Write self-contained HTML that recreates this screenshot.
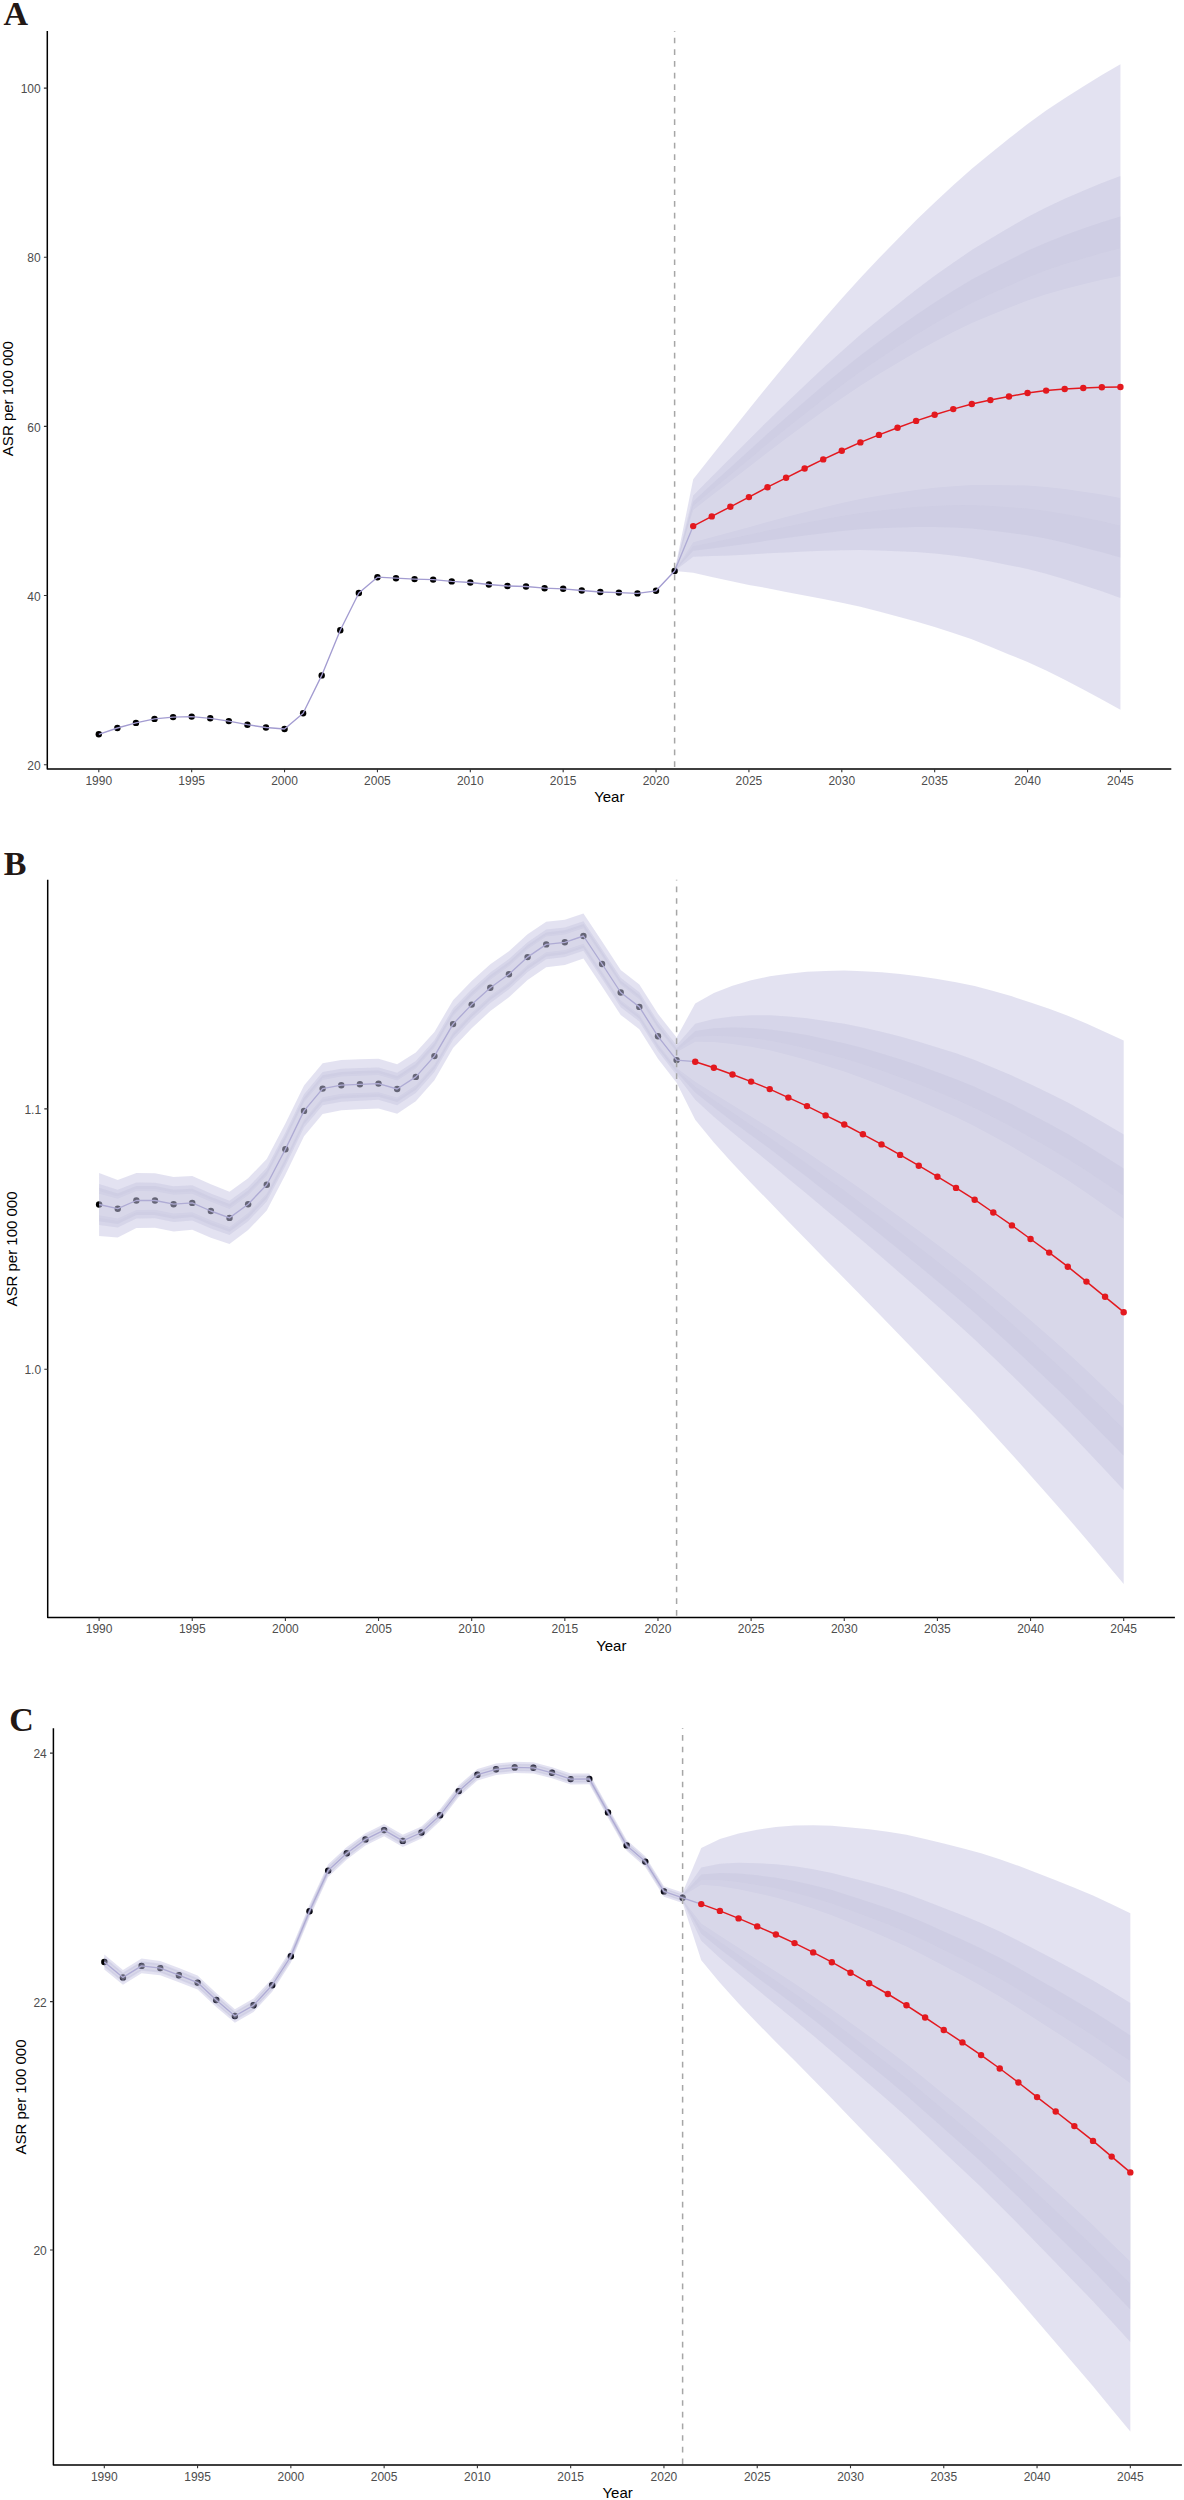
<!DOCTYPE html>
<html><head><meta charset="utf-8"><style>
html,body{margin:0;padding:0;background:#fff;}
body{width:1184px;height:2500px;overflow:hidden;}
svg{display:block;font-family:"Liberation Sans",sans-serif;}
</style></head><body>
<svg width="1184" height="2500" viewBox="0 0 1184 2500">
<circle cx="98.8" cy="734.3" r="3.2" fill="#000"/>
<circle cx="117.38" cy="728" r="3.2" fill="#000"/>
<circle cx="135.95" cy="722.9" r="3.2" fill="#000"/>
<circle cx="154.52" cy="718.9" r="3.2" fill="#000"/>
<circle cx="173.1" cy="717.1" r="3.2" fill="#000"/>
<circle cx="191.68" cy="716.6" r="3.2" fill="#000"/>
<circle cx="210.25" cy="718.3" r="3.2" fill="#000"/>
<circle cx="228.82" cy="721.1" r="3.2" fill="#000"/>
<circle cx="247.4" cy="724.7" r="3.2" fill="#000"/>
<circle cx="265.97" cy="727.5" r="3.2" fill="#000"/>
<circle cx="284.55" cy="729" r="3.2" fill="#000"/>
<circle cx="303.12" cy="713.2" r="3.2" fill="#000"/>
<circle cx="321.7" cy="675.4" r="3.2" fill="#000"/>
<circle cx="340.27" cy="630.3" r="3.2" fill="#000"/>
<circle cx="358.85" cy="593" r="3.2" fill="#000"/>
<circle cx="377.43" cy="577.2" r="3.2" fill="#000"/>
<circle cx="396" cy="578.2" r="3.2" fill="#000"/>
<circle cx="414.57" cy="579.1" r="3.2" fill="#000"/>
<circle cx="433.15" cy="579.6" r="3.2" fill="#000"/>
<circle cx="451.73" cy="581.4" r="3.2" fill="#000"/>
<circle cx="470.3" cy="582.5" r="3.2" fill="#000"/>
<circle cx="488.88" cy="584.5" r="3.2" fill="#000"/>
<circle cx="507.45" cy="586" r="3.2" fill="#000"/>
<circle cx="526.02" cy="586.5" r="3.2" fill="#000"/>
<circle cx="544.6" cy="588.2" r="3.2" fill="#000"/>
<circle cx="563.17" cy="588.8" r="3.2" fill="#000"/>
<circle cx="581.75" cy="590.5" r="3.2" fill="#000"/>
<circle cx="600.32" cy="592" r="3.2" fill="#000"/>
<circle cx="618.9" cy="592.6" r="3.2" fill="#000"/>
<circle cx="637.47" cy="593.4" r="3.2" fill="#000"/>
<circle cx="656.05" cy="590.8" r="3.2" fill="#000"/>
<circle cx="674.62" cy="571" r="3.2" fill="#000"/>
<polyline points="98.8,734.3 117.38,728 135.95,722.9 154.52,718.9 173.1,717.1 191.68,716.6 210.25,718.3 228.82,721.1 247.4,724.7 265.97,727.5 284.55,729 303.12,713.2 321.7,675.4 340.27,630.3 358.85,593 377.43,577.2 396,578.2 414.57,579.1 433.15,579.6 451.73,581.4 470.3,582.5 488.88,584.5 507.45,586 526.02,586.5 544.6,588.2 563.17,588.8 581.75,590.5 600.32,592 618.9,592.6 637.47,593.4 656.05,590.8 674.62,571 693.2,526.1" fill="none" stroke="#a39cd1" stroke-width="1.35" stroke-linejoin="round"/>
<g fill-opacity="0.15" stroke="none"><polygon points="98.8,734.3 117.38,728 135.95,722.9 154.52,718.9 173.1,717.1 191.68,716.6 210.25,718.3 228.82,721.1 247.4,724.7 265.97,727.5 284.55,729 303.12,713.2 321.7,675.4 340.27,630.3 358.85,593 377.43,577.2 396,578.2 414.57,579.1 433.15,579.6 451.73,581.4 470.3,582.5 488.88,584.5 507.45,586 526.02,586.5 544.6,588.2 563.17,588.8 581.75,590.5 600.32,592 618.9,592.6 637.47,593.4 656.05,590.8 674.62,571 693.2,479.35 711.77,455.77 730.35,432.48 748.92,409.32 767.5,386.17 786.07,363.72 804.65,341.56 823.22,319.78 841.8,298.58 860.37,277.94 878.95,258.26 897.52,239.13 916.1,220.35 934.67,202.4 953.25,185.2 971.82,168.63 990.4,153.39 1008.97,138.58 1027.55,123.99 1046.12,110.62 1064.7,98.17 1083.27,86.44 1101.85,75.01 1120.42,64.3 1120.42,709.7 1101.85,699.39 1083.27,689.56 1064.7,679.83 1046.12,670.58 1027.55,662.01 1008.97,654.42 990.4,646.81 971.82,639.37 953.25,633 934.67,627 916.1,621.45 897.52,616.47 878.95,611.54 860.37,606.86 841.8,602.82 823.22,599.02 804.65,595.44 786.07,591.88 767.5,588.23 748.92,584.88 730.35,581.12 711.77,577.03 693.2,572.85 674.62,571 656.05,590.8 637.47,593.4 618.9,592.6 600.32,592 581.75,590.5 563.17,588.8 544.6,588.2 526.02,586.5 507.45,586 488.88,584.5 470.3,582.5 451.73,581.4 433.15,579.6 414.57,579.1 396,578.2 377.43,577.2 358.85,593 340.27,630.3 321.7,675.4 303.12,713.2 284.55,729 265.97,727.5 247.4,724.7 228.82,721.1 210.25,718.3 191.68,716.6 173.1,717.1 154.52,718.9 135.95,722.9 117.38,728 98.8,734.3" fill="#413ba3"/><polygon points="98.8,734.3 117.38,728 135.95,722.9 154.52,718.9 173.1,717.1 191.68,716.6 210.25,718.3 228.82,721.1 247.4,724.7 265.97,727.5 284.55,729 303.12,713.2 321.7,675.4 340.27,630.3 358.85,593 377.43,577.2 396,578.2 414.57,579.1 433.15,579.6 451.73,581.4 470.3,582.5 488.88,584.5 507.45,586 526.02,586.5 544.6,588.2 563.17,588.8 581.75,590.5 600.32,592 618.9,592.6 637.47,593.4 656.05,590.8 674.62,571 693.2,495.53 711.77,476.75 730.35,458.2 748.92,439.69 767.5,421.13 786.07,403.19 804.65,385.48 823.22,368.09 841.8,351.21 860.37,334.84 878.95,319.38 897.52,304.41 916.1,289.74 934.67,275.86 953.25,262.67 971.82,250.07 990.4,238.75 1008.97,227.82 1027.55,217.07 1046.12,207.5 1064.7,198.8 1083.27,190.78 1101.85,183.03 1120.42,175.96 1120.42,598.04 1101.85,591.37 1083.27,585.22 1064.7,579.2 1046.12,573.7 1027.55,568.93 1008.97,565.18 990.4,561.45 971.82,557.93 953.25,555.53 934.67,553.54 916.1,552.06 897.52,551.19 878.95,550.42 860.37,549.96 841.8,550.19 823.22,550.71 804.65,551.52 786.07,552.41 767.5,553.27 748.92,554.51 730.35,555.4 711.77,556.05 693.2,556.67 674.62,571 656.05,590.8 637.47,593.4 618.9,592.6 600.32,592 581.75,590.5 563.17,588.8 544.6,588.2 526.02,586.5 507.45,586 488.88,584.5 470.3,582.5 451.73,581.4 433.15,579.6 414.57,579.1 396,578.2 377.43,577.2 358.85,593 340.27,630.3 321.7,675.4 303.12,713.2 284.55,729 265.97,727.5 247.4,724.7 228.82,721.1 210.25,718.3 191.68,716.6 173.1,717.1 154.52,718.9 135.95,722.9 117.38,728 98.8,734.3" fill="#8d8cbd"/><polygon points="98.8,734.3 117.38,728 135.95,722.9 154.52,718.9 173.1,717.1 191.68,716.6 210.25,718.3 228.82,721.1 247.4,724.7 265.97,727.5 284.55,729 303.12,713.2 321.7,675.4 340.27,630.3 358.85,593 377.43,577.2 396,578.2 414.57,579.1 433.15,579.6 451.73,581.4 470.3,582.5 488.88,584.5 507.45,586 526.02,586.5 544.6,588.2 563.17,588.8 581.75,590.5 600.32,592 618.9,592.6 637.47,593.4 656.05,590.8 674.62,571 693.2,501.39 711.77,484.36 730.35,467.52 748.92,450.71 767.5,433.81 786.07,417.51 804.65,401.41 823.22,385.61 841.8,370.3 860.37,355.48 878.95,341.54 897.52,328.09 916.1,314.91 934.67,302.5 953.25,290.77 971.82,279.61 990.4,269.72 1008.97,260.19 1027.55,250.83 1046.12,242.63 1064.7,235.3 1083.27,228.62 1101.85,222.21 1120.42,216.45 1120.42,557.55 1101.85,552.19 1083.27,547.38 1064.7,542.7 1046.12,538.57 1027.55,535.17 1008.97,532.81 990.4,530.48 971.82,528.39 953.25,527.43 934.67,526.9 916.1,526.89 897.52,527.51 878.95,528.26 860.37,529.32 841.8,531.1 823.22,533.19 804.65,535.59 786.07,538.09 767.5,540.59 748.92,543.49 730.35,546.08 711.77,548.44 693.2,550.81 674.62,571 656.05,590.8 637.47,593.4 618.9,592.6 600.32,592 581.75,590.5 563.17,588.8 544.6,588.2 526.02,586.5 507.45,586 488.88,584.5 470.3,582.5 451.73,581.4 433.15,579.6 414.57,579.1 396,578.2 377.43,577.2 358.85,593 340.27,630.3 321.7,675.4 303.12,713.2 284.55,729 265.97,727.5 247.4,724.7 228.82,721.1 210.25,718.3 191.68,716.6 173.1,717.1 154.52,718.9 135.95,722.9 117.38,728 98.8,734.3" fill="#a7a6c8"/><polygon points="98.8,734.3 117.38,728 135.95,722.9 154.52,718.9 173.1,717.1 191.68,716.6 210.25,718.3 228.82,721.1 247.4,724.7 265.97,727.5 284.55,729 303.12,713.2 321.7,675.4 340.27,630.3 358.85,593 377.43,577.2 396,578.2 414.57,579.1 433.15,579.6 451.73,581.4 470.3,582.5 488.88,584.5 507.45,586 526.02,586.5 544.6,588.2 563.17,588.8 581.75,590.5 600.32,592 618.9,592.6 637.47,593.4 656.05,590.8 674.62,571 693.2,506.02 711.77,490.35 730.35,474.87 748.92,459.39 767.5,443.8 786.07,428.79 804.65,413.97 823.22,399.42 841.8,385.35 860.37,371.75 878.95,359.01 897.52,346.75 916.1,334.74 934.67,323.5 953.25,312.91 971.82,302.89 990.4,294.12 1008.97,285.7 1027.55,277.43 1046.12,270.32 1064.7,264.06 1083.27,258.45 1101.85,253.09 1120.42,248.37 1120.42,525.63 1101.85,521.31 1083.27,517.55 1064.7,513.94 1046.12,510.88 1027.55,508.57 1008.97,507.3 990.4,506.08 971.82,505.11 953.25,505.29 934.67,505.9 916.1,507.06 897.52,508.85 878.95,510.79 860.37,513.05 841.8,516.05 823.22,519.38 804.65,523.03 786.07,526.81 767.5,530.6 748.92,534.81 730.35,538.73 711.77,542.45 693.2,546.18 674.62,571 656.05,590.8 637.47,593.4 618.9,592.6 600.32,592 581.75,590.5 563.17,588.8 544.6,588.2 526.02,586.5 507.45,586 488.88,584.5 470.3,582.5 451.73,581.4 433.15,579.6 414.57,579.1 396,578.2 377.43,577.2 358.85,593 340.27,630.3 321.7,675.4 303.12,713.2 284.55,729 265.97,727.5 247.4,724.7 228.82,721.1 210.25,718.3 191.68,716.6 173.1,717.1 154.52,718.9 135.95,722.9 117.38,728 98.8,734.3" fill="#e2e1f1"/><polygon points="98.8,734.3 117.38,728 135.95,722.9 154.52,718.9 173.1,717.1 191.68,716.6 210.25,718.3 228.82,721.1 247.4,724.7 265.97,727.5 284.55,729 303.12,713.2 321.7,675.4 340.27,630.3 358.85,593 377.43,577.2 396,578.2 414.57,579.1 433.15,579.6 451.73,581.4 470.3,582.5 488.88,584.5 507.45,586 526.02,586.5 544.6,588.2 563.17,588.8 581.75,590.5 600.32,592 618.9,592.6 637.47,593.4 656.05,590.8 674.62,571 693.2,510.01 711.77,495.54 730.35,481.23 748.92,466.9 767.5,452.44 786.07,438.55 804.65,424.82 823.22,411.36 841.8,398.36 860.37,385.81 878.95,374.12 897.52,362.88 916.1,351.89 934.67,341.65 953.25,332.06 971.82,323.01 990.4,315.21 1008.97,307.75 1027.55,300.43 1046.12,294.26 1064.7,288.93 1083.27,284.23 1101.85,279.78 1120.42,275.96 1120.42,498.04 1101.85,494.62 1083.27,491.77 1064.7,489.07 1046.12,486.94 1027.55,485.57 1008.97,485.25 990.4,484.99 971.82,484.99 953.25,486.14 934.67,487.75 916.1,489.91 897.52,492.72 878.95,495.68 860.37,498.99 841.8,503.04 823.22,507.44 804.65,512.18 786.07,517.05 767.5,521.96 748.92,527.3 730.35,532.37 711.77,537.26 693.2,542.19 674.62,571 656.05,590.8 637.47,593.4 618.9,592.6 600.32,592 581.75,590.5 563.17,588.8 544.6,588.2 526.02,586.5 507.45,586 488.88,584.5 470.3,582.5 451.73,581.4 433.15,579.6 414.57,579.1 396,578.2 377.43,577.2 358.85,593 340.27,630.3 321.7,675.4 303.12,713.2 284.55,729 265.97,727.5 247.4,724.7 228.82,721.1 210.25,718.3 191.68,716.6 173.1,717.1 154.52,718.9 135.95,722.9 117.38,728 98.8,734.3" fill="#fffeff"/></g>
<line x1="674.62" y1="31" x2="674.62" y2="768.9" stroke="#a6a6a6" stroke-width="1.5" stroke-dasharray="5.7,5.97" stroke-dashoffset="5.0"/>
<polyline points="693.2,526.1 711.77,516.4 730.35,506.8 748.92,497.1 767.5,487.2 786.07,477.8 804.65,468.5 823.22,459.4 841.8,450.7 860.37,442.4 878.95,434.9 897.52,427.8 916.1,420.9 934.67,414.7 953.25,409.1 971.82,404 990.4,400.1 1008.97,396.5 1027.55,393 1046.12,390.6 1064.7,389 1083.27,388 1101.85,387.2 1120.42,387" fill="none" stroke="#e3191f" stroke-width="1.5" stroke-linejoin="round"/>
<circle cx="693.2" cy="526.1" r="3.2" fill="#e3191f"/>
<circle cx="711.77" cy="516.4" r="3.2" fill="#e3191f"/>
<circle cx="730.35" cy="506.8" r="3.2" fill="#e3191f"/>
<circle cx="748.92" cy="497.1" r="3.2" fill="#e3191f"/>
<circle cx="767.5" cy="487.2" r="3.2" fill="#e3191f"/>
<circle cx="786.07" cy="477.8" r="3.2" fill="#e3191f"/>
<circle cx="804.65" cy="468.5" r="3.2" fill="#e3191f"/>
<circle cx="823.22" cy="459.4" r="3.2" fill="#e3191f"/>
<circle cx="841.8" cy="450.7" r="3.2" fill="#e3191f"/>
<circle cx="860.37" cy="442.4" r="3.2" fill="#e3191f"/>
<circle cx="878.95" cy="434.9" r="3.2" fill="#e3191f"/>
<circle cx="897.52" cy="427.8" r="3.2" fill="#e3191f"/>
<circle cx="916.1" cy="420.9" r="3.2" fill="#e3191f"/>
<circle cx="934.67" cy="414.7" r="3.2" fill="#e3191f"/>
<circle cx="953.25" cy="409.1" r="3.2" fill="#e3191f"/>
<circle cx="971.82" cy="404" r="3.2" fill="#e3191f"/>
<circle cx="990.4" cy="400.1" r="3.2" fill="#e3191f"/>
<circle cx="1008.97" cy="396.5" r="3.2" fill="#e3191f"/>
<circle cx="1027.55" cy="393" r="3.2" fill="#e3191f"/>
<circle cx="1046.12" cy="390.6" r="3.2" fill="#e3191f"/>
<circle cx="1064.7" cy="389" r="3.2" fill="#e3191f"/>
<circle cx="1083.27" cy="388" r="3.2" fill="#e3191f"/>
<circle cx="1101.85" cy="387.2" r="3.2" fill="#e3191f"/>
<circle cx="1120.42" cy="387" r="3.2" fill="#e3191f"/>
<path d="M47.3 31V768.9H1171.3" fill="none" stroke="#000" stroke-width="1.5" stroke-linecap="butt" stroke-linejoin="round"/>
<path d="M98.8 768.9V772.3M191.68 768.9V772.3M284.55 768.9V772.3M377.43 768.9V772.3M470.3 768.9V772.3M563.17 768.9V772.3M656.05 768.9V772.3M748.92 768.9V772.3M841.8 768.9V772.3M934.67 768.9V772.3M1027.55 768.9V772.3M1120.42 768.9V772.3M43.9 764.7H47.3M43.9 595.5H47.3M43.9 426.4H47.3M43.9 257.3H47.3M43.9 88.1H47.3" stroke="#333" stroke-width="1.1"/>
<g font-size="12" fill="#4d4d4d" text-anchor="middle"><text x="98.8" y="784.7">1990</text><text x="191.68" y="784.7">1995</text><text x="284.55" y="784.7">2000</text><text x="377.43" y="784.7">2005</text><text x="470.3" y="784.7">2010</text><text x="563.17" y="784.7">2015</text><text x="656.05" y="784.7">2020</text><text x="748.92" y="784.7">2025</text><text x="841.8" y="784.7">2030</text><text x="934.67" y="784.7">2035</text><text x="1027.55" y="784.7">2040</text><text x="1120.42" y="784.7">2045</text></g>
<g font-size="12" fill="#4d4d4d" text-anchor="end"><text x="40.7" y="769.8">20</text><text x="40.7" y="600.6">40</text><text x="40.7" y="431.5">60</text><text x="40.7" y="262.4">80</text><text x="40.7" y="93.2">100</text></g>
<text x="609.3" y="801.9" font-size="15" text-anchor="middle" fill="#000">Year</text>
<text transform="translate(13.3 398.6) rotate(-90)" font-size="15" text-anchor="middle" fill="#000">ASR per 100 000</text>
<text x="3.4" y="24.6" font-family="Liberation Serif" font-weight="bold" font-size="34" fill="#231815">A</text>
<circle cx="99.1" cy="1204.5" r="3.2" fill="#000"/>
<circle cx="117.73" cy="1208.7" r="3.2" fill="#000"/>
<circle cx="136.36" cy="1200.5" r="3.2" fill="#000"/>
<circle cx="154.99" cy="1200.5" r="3.2" fill="#000"/>
<circle cx="173.62" cy="1204.2" r="3.2" fill="#000"/>
<circle cx="192.25" cy="1202.9" r="3.2" fill="#000"/>
<circle cx="210.87" cy="1211" r="3.2" fill="#000"/>
<circle cx="229.5" cy="1217.9" r="3.2" fill="#000"/>
<circle cx="248.13" cy="1204.2" r="3.2" fill="#000"/>
<circle cx="266.76" cy="1184.7" r="3.2" fill="#000"/>
<circle cx="285.39" cy="1149.2" r="3.2" fill="#000"/>
<circle cx="304.02" cy="1110.9" r="3.2" fill="#000"/>
<circle cx="322.65" cy="1088.6" r="3.2" fill="#000"/>
<circle cx="341.28" cy="1085.2" r="3.2" fill="#000"/>
<circle cx="359.91" cy="1084.3" r="3.2" fill="#000"/>
<circle cx="378.53" cy="1083.6" r="3.2" fill="#000"/>
<circle cx="397.16" cy="1089" r="3.2" fill="#000"/>
<circle cx="415.79" cy="1076.9" r="3.2" fill="#000"/>
<circle cx="434.42" cy="1056.1" r="3.2" fill="#000"/>
<circle cx="453.05" cy="1024.1" r="3.2" fill="#000"/>
<circle cx="471.68" cy="1004.6" r="3.2" fill="#000"/>
<circle cx="490.31" cy="987.7" r="3.2" fill="#000"/>
<circle cx="508.94" cy="974.2" r="3.2" fill="#000"/>
<circle cx="527.57" cy="957.1" r="3.2" fill="#000"/>
<circle cx="546.2" cy="944.4" r="3.2" fill="#000"/>
<circle cx="564.83" cy="942.3" r="3.2" fill="#000"/>
<circle cx="583.45" cy="936" r="3.2" fill="#000"/>
<circle cx="602.08" cy="964" r="3.2" fill="#000"/>
<circle cx="620.71" cy="992.5" r="3.2" fill="#000"/>
<circle cx="639.34" cy="1006.9" r="3.2" fill="#000"/>
<circle cx="657.97" cy="1036.3" r="3.2" fill="#000"/>
<circle cx="676.6" cy="1060.1" r="3.2" fill="#000"/>
<polyline points="99.1,1204.5 117.73,1208.7 136.36,1200.5 154.99,1200.5 173.62,1204.2 192.25,1202.9 210.87,1211 229.5,1217.9 248.13,1204.2 266.76,1184.7 285.39,1149.2 304.02,1110.9 322.65,1088.6 341.28,1085.2 359.91,1084.3 378.53,1083.6 397.16,1089 415.79,1076.9 434.42,1056.1 453.05,1024.1 471.68,1004.6 490.31,987.7 508.94,974.2 527.57,957.1 546.2,944.4 564.83,942.3 583.45,936 602.08,964 620.71,992.5 639.34,1006.9 657.97,1036.3 676.6,1060.1 695.23,1061.7" fill="none" stroke="#a39cd1" stroke-width="1.35" stroke-linejoin="round"/>
<g fill-opacity="0.15" stroke="none"><polygon points="99.1,1173 117.73,1179.9 136.36,1173 154.99,1173.3 173.62,1176.9 192.25,1176 210.87,1184.3 229.5,1191.7 248.13,1178.3 266.76,1158.9 285.39,1123.57 304.02,1085.43 322.65,1063.3 341.28,1060.07 359.91,1059.33 378.53,1058.8 397.16,1064.3 415.79,1052.47 434.42,1031.94 453.05,1000.21 471.68,980.99 490.31,964.36 508.94,951.13 527.57,934.3 546.2,921.67 564.83,919.63 583.45,913.4 602.08,941.5 620.71,970.1 639.34,984.6 657.97,1013.85 676.6,1037.5 695.23,1003.54 713.86,993.06 732.49,985.78 751.12,980.3 769.74,976.15 788.37,973.7 807,971.78 825.63,971.1 844.26,970.61 862.89,971.13 881.52,972.24 900.15,974.01 918.78,976.31 937.41,979.02 956.03,982.13 974.66,986.01 993.29,991.06 1011.92,996.37 1030.55,1002.53 1049.18,1008.82 1067.81,1015.75 1086.44,1023.61 1105.07,1031.88 1123.69,1040.48 1123.69,1583.92 1105.07,1561.72 1086.44,1539.59 1067.81,1517.65 1049.18,1496.38 1030.55,1475.47 1011.92,1454.43 993.29,1433.94 974.66,1413.39 956.03,1393.67 937.41,1374.38 918.78,1355.09 900.15,1335.79 881.52,1316.56 862.89,1297.47 844.26,1278.39 825.63,1259.7 807,1240.42 788.37,1221.5 769.74,1202.05 751.12,1182.9 732.49,1163.22 713.86,1142.54 695.23,1119.86 676.6,1082.7 657.97,1058.75 639.34,1029.2 620.71,1014.9 602.08,986.5 583.45,958.6 564.83,964.97 546.2,967.13 527.57,979.9 508.94,997.27 490.31,1011.04 471.68,1028.21 453.05,1047.99 434.42,1080.26 415.79,1101.33 397.16,1113.7 378.53,1108.4 359.91,1109.27 341.28,1110.33 322.65,1113.9 304.02,1136.37 285.39,1174.83 266.76,1210.5 248.13,1230.1 229.5,1244.1 210.87,1237.7 192.25,1229.8 173.62,1231.5 154.99,1227.7 136.36,1228 117.73,1237.5 99.1,1236" fill="#413ba3"/><polygon points="99.1,1183.9 117.73,1189.86 136.36,1182.52 154.99,1182.71 173.62,1186.35 192.25,1185.31 210.87,1193.54 229.5,1200.77 248.13,1187.26 266.76,1167.83 285.39,1132.44 304.02,1094.24 322.65,1072.05 341.28,1068.76 359.91,1067.97 378.53,1067.38 397.16,1072.85 415.79,1060.92 434.42,1040.3 453.05,1008.48 471.68,989.16 490.31,972.43 508.94,959.11 527.57,942.19 546.2,929.53 564.83,927.48 583.45,921.22 602.08,949.28 620.71,977.85 639.34,992.32 657.97,1021.62 676.6,1045.32 695.23,1023.66 713.86,1018.92 732.49,1016.48 751.12,1015.35 769.74,1015.23 788.37,1016.57 807,1018.25 825.63,1021.03 844.26,1023.85 862.89,1027.59 881.52,1031.81 900.15,1036.6 918.78,1041.84 937.41,1047.42 956.03,1053.32 974.66,1059.95 993.29,1067.68 1011.92,1075.61 1030.55,1084.35 1049.18,1093.17 1067.81,1102.58 1086.44,1112.87 1105.07,1123.55 1123.69,1134.49 1123.69,1489.91 1105.07,1470.05 1086.44,1450.33 1067.81,1430.82 1049.18,1412.03 1030.55,1393.65 1011.92,1375.19 993.29,1357.32 974.66,1339.45 956.03,1322.48 937.41,1305.98 918.78,1289.56 900.15,1273.2 881.52,1256.99 862.89,1241.01 844.26,1225.15 825.63,1209.77 807,1193.95 788.37,1178.63 769.74,1162.97 751.12,1147.85 732.49,1132.52 713.86,1116.68 695.23,1099.74 676.6,1074.88 657.97,1050.98 639.34,1021.48 620.71,1007.15 602.08,978.72 583.45,950.78 564.83,957.12 546.2,959.27 527.57,972.01 508.94,989.29 490.31,1002.97 471.68,1020.04 453.05,1039.72 434.42,1071.9 415.79,1092.88 397.16,1105.15 378.53,1099.82 359.91,1100.63 341.28,1101.64 322.65,1105.15 304.02,1127.56 285.39,1165.96 266.76,1201.57 248.13,1221.14 229.5,1235.03 210.87,1228.46 192.25,1220.49 173.62,1222.05 154.99,1218.29 136.36,1218.48 117.73,1227.54 99.1,1225.1" fill="#8d8cbd"/><polygon points="99.1,1187.85 117.73,1193.48 136.36,1185.97 154.99,1186.12 173.62,1189.77 192.25,1188.68 210.87,1196.89 229.5,1204.05 248.13,1190.51 266.76,1171.06 285.39,1135.65 304.02,1097.44 322.65,1075.23 341.28,1071.92 359.91,1071.11 378.53,1070.49 397.16,1075.95 415.79,1063.99 434.42,1043.33 453.05,1011.48 471.68,992.12 490.31,975.36 508.94,962.01 527.57,945.05 546.2,932.39 564.83,930.32 583.45,924.06 602.08,952.11 620.71,980.66 639.34,995.11 657.97,1024.44 676.6,1048.16 695.23,1030.96 713.86,1028.3 732.49,1027.61 751.12,1028.06 769.74,1029.41 788.37,1032.12 807,1035.11 825.63,1039.14 844.26,1043.17 862.89,1048.07 881.52,1053.42 900.15,1059.3 918.78,1065.61 937.41,1072.23 956.03,1079.15 974.66,1086.76 993.29,1095.47 1011.92,1104.36 1030.55,1114.02 1049.18,1123.76 1067.81,1134.07 1086.44,1145.25 1105.07,1156.79 1123.69,1168.59 1123.69,1455.81 1105.07,1436.81 1086.44,1417.95 1067.81,1399.33 1049.18,1381.44 1030.55,1363.98 1011.92,1346.44 993.29,1329.53 974.66,1312.64 956.03,1296.65 937.41,1281.17 918.78,1265.79 900.15,1250.5 881.52,1235.38 862.89,1220.53 844.26,1205.83 825.63,1191.66 807,1177.09 788.37,1163.08 769.74,1148.79 751.12,1135.14 732.49,1121.39 713.86,1107.3 695.23,1092.44 676.6,1072.04 657.97,1048.16 639.34,1018.69 620.71,1004.34 602.08,975.89 583.45,947.94 564.83,954.28 546.2,956.41 527.57,969.15 508.94,986.39 490.31,1000.04 471.68,1017.08 453.05,1036.72 434.42,1068.87 415.79,1089.81 397.16,1102.05 378.53,1096.71 359.91,1097.49 341.28,1098.48 322.65,1101.97 304.02,1124.36 285.39,1162.75 266.76,1198.34 248.13,1217.89 229.5,1231.75 210.87,1225.11 192.25,1217.12 173.62,1218.63 154.99,1214.88 136.36,1215.03 117.73,1223.92 99.1,1221.15" fill="#a7a6c8"/><polygon points="99.1,1190.97 117.73,1196.33 136.36,1188.69 154.99,1188.81 173.62,1192.47 192.25,1191.34 210.87,1199.53 229.5,1206.64 248.13,1193.07 266.76,1173.62 285.39,1138.19 304.02,1099.96 322.65,1077.73 341.28,1074.4 359.91,1073.57 378.53,1072.95 397.16,1078.39 415.79,1066.41 434.42,1045.72 453.05,1013.84 471.68,994.46 490.31,977.67 508.94,964.29 527.57,947.31 546.2,934.63 564.83,932.56 583.45,926.29 602.08,954.33 620.71,982.88 639.34,997.32 657.97,1026.66 676.6,1050.39 695.23,1036.71 713.86,1035.69 732.49,1036.39 751.12,1038.08 769.74,1040.58 788.37,1044.37 807,1048.4 825.63,1053.41 844.26,1058.39 862.89,1064.2 881.52,1070.44 900.15,1077.19 918.78,1084.34 937.41,1091.78 956.03,1099.5 974.66,1107.9 993.29,1117.37 1011.92,1127.01 1030.55,1137.41 1049.18,1147.87 1067.81,1158.89 1086.44,1170.77 1105.07,1182.99 1123.69,1195.47 1123.69,1428.93 1105.07,1410.61 1086.44,1392.43 1067.81,1374.51 1049.18,1357.33 1030.55,1340.59 1011.92,1323.79 993.29,1307.63 974.66,1291.5 956.03,1276.3 937.41,1261.62 918.78,1247.06 900.15,1232.61 881.52,1218.36 862.89,1204.4 844.26,1190.61 825.63,1177.39 807,1163.8 788.37,1150.83 769.74,1137.62 751.12,1125.12 732.49,1112.61 713.86,1099.91 695.23,1086.69 676.6,1069.81 657.97,1045.94 639.34,1016.48 620.71,1002.12 602.08,973.67 583.45,945.71 564.83,952.04 546.2,954.17 527.57,966.89 508.94,984.11 490.31,997.73 471.68,1014.74 453.05,1034.36 434.42,1066.48 415.79,1087.39 397.16,1099.61 378.53,1094.25 359.91,1095.03 341.28,1096 322.65,1099.47 304.02,1121.84 285.39,1160.21 266.76,1195.78 248.13,1215.33 229.5,1229.16 210.87,1222.47 192.25,1214.46 173.62,1215.93 154.99,1212.19 136.36,1212.31 117.73,1221.07 99.1,1218.03" fill="#e2e1f1"/><polygon points="99.1,1193.66 117.73,1198.79 136.36,1191.04 154.99,1191.14 173.62,1194.81 192.25,1193.64 210.87,1201.81 229.5,1208.88 248.13,1195.29 266.76,1175.82 285.39,1140.38 304.02,1102.14 322.65,1079.89 341.28,1076.55 359.91,1075.71 378.53,1075.07 397.16,1080.5 415.79,1068.49 434.42,1047.79 453.05,1015.88 471.68,996.47 490.31,979.67 508.94,966.26 527.57,949.25 546.2,936.58 564.83,934.5 583.45,928.22 602.08,956.26 620.71,984.79 639.34,999.23 657.97,1028.57 676.6,1052.32 695.23,1041.69 713.86,1042.08 732.49,1043.97 751.12,1046.74 769.74,1050.24 788.37,1054.96 807,1059.88 825.63,1065.75 844.26,1071.55 862.89,1078.15 881.52,1085.16 900.15,1092.66 918.78,1100.53 937.41,1108.68 956.03,1117.09 974.66,1126.17 993.29,1136.3 1011.92,1146.59 1030.55,1157.63 1049.18,1168.72 1067.81,1180.35 1086.44,1192.83 1105.07,1205.64 1123.69,1218.7 1123.69,1405.7 1105.07,1387.96 1086.44,1370.37 1067.81,1353.05 1049.18,1336.48 1030.55,1320.37 1011.92,1304.21 993.29,1288.7 974.66,1273.23 956.03,1258.71 937.41,1244.72 918.78,1230.87 900.15,1217.14 881.52,1203.64 862.89,1190.45 844.26,1177.45 825.63,1165.05 807,1152.32 788.37,1140.24 769.74,1127.96 751.12,1116.46 732.49,1105.03 713.86,1093.52 695.23,1081.71 676.6,1067.88 657.97,1044.03 639.34,1014.57 620.71,1000.21 602.08,971.74 583.45,943.78 564.83,950.1 546.2,952.22 527.57,964.95 508.94,982.14 490.31,995.73 471.68,1012.73 453.05,1032.32 434.42,1064.41 415.79,1085.31 397.16,1097.5 378.53,1092.13 359.91,1092.89 341.28,1093.85 322.65,1097.31 304.02,1119.66 285.39,1158.02 266.76,1193.58 248.13,1213.11 229.5,1226.92 210.87,1220.19 192.25,1212.16 173.62,1213.59 154.99,1209.86 136.36,1209.96 117.73,1218.61 99.1,1215.34" fill="#fffeff"/></g>
<line x1="676.6" y1="879.8" x2="676.6" y2="1617.6" stroke="#a6a6a6" stroke-width="1.5" stroke-dasharray="5.7,5.97" stroke-dashoffset="5.0"/>
<polyline points="695.23,1061.7 713.86,1067.8 732.49,1074.5 751.12,1081.6 769.74,1089.1 788.37,1097.6 807,1106.1 825.63,1115.4 844.26,1124.5 862.89,1134.3 881.52,1144.4 900.15,1154.9 918.78,1165.7 937.41,1176.7 956.03,1187.9 974.66,1199.7 993.29,1212.5 1011.92,1225.4 1030.55,1239 1049.18,1252.6 1067.81,1266.7 1086.44,1281.6 1105.07,1296.8 1123.69,1312.2" fill="none" stroke="#e3191f" stroke-width="1.5" stroke-linejoin="round"/>
<circle cx="695.23" cy="1061.7" r="3.2" fill="#e3191f"/>
<circle cx="713.86" cy="1067.8" r="3.2" fill="#e3191f"/>
<circle cx="732.49" cy="1074.5" r="3.2" fill="#e3191f"/>
<circle cx="751.12" cy="1081.6" r="3.2" fill="#e3191f"/>
<circle cx="769.74" cy="1089.1" r="3.2" fill="#e3191f"/>
<circle cx="788.37" cy="1097.6" r="3.2" fill="#e3191f"/>
<circle cx="807" cy="1106.1" r="3.2" fill="#e3191f"/>
<circle cx="825.63" cy="1115.4" r="3.2" fill="#e3191f"/>
<circle cx="844.26" cy="1124.5" r="3.2" fill="#e3191f"/>
<circle cx="862.89" cy="1134.3" r="3.2" fill="#e3191f"/>
<circle cx="881.52" cy="1144.4" r="3.2" fill="#e3191f"/>
<circle cx="900.15" cy="1154.9" r="3.2" fill="#e3191f"/>
<circle cx="918.78" cy="1165.7" r="3.2" fill="#e3191f"/>
<circle cx="937.41" cy="1176.7" r="3.2" fill="#e3191f"/>
<circle cx="956.03" cy="1187.9" r="3.2" fill="#e3191f"/>
<circle cx="974.66" cy="1199.7" r="3.2" fill="#e3191f"/>
<circle cx="993.29" cy="1212.5" r="3.2" fill="#e3191f"/>
<circle cx="1011.92" cy="1225.4" r="3.2" fill="#e3191f"/>
<circle cx="1030.55" cy="1239" r="3.2" fill="#e3191f"/>
<circle cx="1049.18" cy="1252.6" r="3.2" fill="#e3191f"/>
<circle cx="1067.81" cy="1266.7" r="3.2" fill="#e3191f"/>
<circle cx="1086.44" cy="1281.6" r="3.2" fill="#e3191f"/>
<circle cx="1105.07" cy="1296.8" r="3.2" fill="#e3191f"/>
<circle cx="1123.69" cy="1312.2" r="3.2" fill="#e3191f"/>
<path d="M47.7 879.8V1617.6H1174.9" fill="none" stroke="#000" stroke-width="1.5" stroke-linecap="butt" stroke-linejoin="round"/>
<path d="M99.1 1617.6V1621M192.25 1617.6V1621M285.39 1617.6V1621M378.53 1617.6V1621M471.68 1617.6V1621M564.83 1617.6V1621M657.97 1617.6V1621M751.12 1617.6V1621M844.26 1617.6V1621M937.41 1617.6V1621M1030.55 1617.6V1621M1123.69 1617.6V1621M44.3 1369.2H47.7M44.3 1108.9H47.7" stroke="#333" stroke-width="1.1"/>
<g font-size="12" fill="#4d4d4d" text-anchor="middle"><text x="99.1" y="1633.4">1990</text><text x="192.25" y="1633.4">1995</text><text x="285.39" y="1633.4">2000</text><text x="378.53" y="1633.4">2005</text><text x="471.68" y="1633.4">2010</text><text x="564.83" y="1633.4">2015</text><text x="657.97" y="1633.4">2020</text><text x="751.12" y="1633.4">2025</text><text x="844.26" y="1633.4">2030</text><text x="937.41" y="1633.4">2035</text><text x="1030.55" y="1633.4">2040</text><text x="1123.69" y="1633.4">2045</text></g>
<g font-size="12" fill="#4d4d4d" text-anchor="end"><text x="41.1" y="1374.3">1.0</text><text x="41.1" y="1114">1.1</text></g>
<text x="611.3" y="1650.6" font-size="15" text-anchor="middle" fill="#000">Year</text>
<text transform="translate(16.8 1249) rotate(-90)" font-size="15" text-anchor="middle" fill="#000">ASR per 100 000</text>
<text x="3.8" y="874.9" font-family="Liberation Serif" font-weight="bold" font-size="34" fill="#231815">B</text>
<circle cx="104.3" cy="1962" r="3.2" fill="#000"/>
<circle cx="122.95" cy="1977.4" r="3.2" fill="#000"/>
<circle cx="141.61" cy="1965.9" r="3.2" fill="#000"/>
<circle cx="160.26" cy="1968.1" r="3.2" fill="#000"/>
<circle cx="178.92" cy="1975.2" r="3.2" fill="#000"/>
<circle cx="197.57" cy="1982.6" r="3.2" fill="#000"/>
<circle cx="216.23" cy="2000" r="3.2" fill="#000"/>
<circle cx="234.88" cy="2016" r="3.2" fill="#000"/>
<circle cx="253.54" cy="2005.3" r="3.2" fill="#000"/>
<circle cx="272.19" cy="1985.2" r="3.2" fill="#000"/>
<circle cx="290.85" cy="1956.3" r="3.2" fill="#000"/>
<circle cx="309.5" cy="1911.3" r="3.2" fill="#000"/>
<circle cx="328.16" cy="1870.6" r="3.2" fill="#000"/>
<circle cx="346.81" cy="1853.3" r="3.2" fill="#000"/>
<circle cx="365.47" cy="1839.4" r="3.2" fill="#000"/>
<circle cx="384.13" cy="1830.1" r="3.2" fill="#000"/>
<circle cx="402.78" cy="1840.9" r="3.2" fill="#000"/>
<circle cx="421.44" cy="1832.5" r="3.2" fill="#000"/>
<circle cx="440.09" cy="1815.3" r="3.2" fill="#000"/>
<circle cx="458.75" cy="1791.1" r="3.2" fill="#000"/>
<circle cx="477.4" cy="1774.7" r="3.2" fill="#000"/>
<circle cx="496.06" cy="1769.3" r="3.2" fill="#000"/>
<circle cx="514.71" cy="1767.4" r="3.2" fill="#000"/>
<circle cx="533.37" cy="1767.8" r="3.2" fill="#000"/>
<circle cx="552.02" cy="1772.8" r="3.2" fill="#000"/>
<circle cx="570.67" cy="1779.1" r="3.2" fill="#000"/>
<circle cx="589.33" cy="1778.9" r="3.2" fill="#000"/>
<circle cx="607.99" cy="1812.4" r="3.2" fill="#000"/>
<circle cx="626.64" cy="1845.4" r="3.2" fill="#000"/>
<circle cx="645.29" cy="1861.6" r="3.2" fill="#000"/>
<circle cx="663.95" cy="1891.4" r="3.2" fill="#000"/>
<circle cx="682.61" cy="1897.8" r="3.2" fill="#000"/>
<polyline points="104.3,1962 122.95,1977.4 141.61,1965.9 160.26,1968.1 178.92,1975.2 197.57,1982.6 216.23,2000 234.88,2016 253.54,2005.3 272.19,1985.2 290.85,1956.3 309.5,1911.3 328.16,1870.6 346.81,1853.3 365.47,1839.4 384.13,1830.1 402.78,1840.9 421.44,1832.5 440.09,1815.3 458.75,1791.1 477.4,1774.7 496.06,1769.3 514.71,1767.4 533.37,1767.8 552.02,1772.8 570.67,1779.1 589.33,1778.9 607.99,1812.4 626.64,1845.4 645.29,1861.6 663.95,1891.4 682.61,1897.8 701.26,1904.1" fill="none" stroke="#a39cd1" stroke-width="1.35" stroke-linejoin="round"/>
<g fill-opacity="0.15" stroke="none"><polygon points="104.3,1954.5 122.95,1970 141.61,1958.6 160.26,1960.9 178.92,1968.1 197.57,1975.6 216.23,1993.1 234.88,2009.2 253.54,1998.6 272.19,1978.6 290.85,1949.8 309.5,1904.87 328.16,1864.24 346.81,1847.01 365.47,1833.18 384.13,1823.95 402.78,1834.82 421.44,1826.49 440.09,1809.36 458.75,1785.23 477.4,1768.9 496.06,1763.56 514.71,1761.72 533.37,1762.17 552.02,1767.23 570.67,1773.59 589.33,1773.45 607.99,1807 626.64,1840.05 645.29,1856.3 663.95,1886.15 682.61,1892.6 701.26,1847.95 719.91,1838.98 738.57,1833.42 757.23,1829.76 775.88,1827.1 794.53,1825.58 813.19,1825.25 831.85,1825.82 850.5,1827.4 869.15,1829.35 887.81,1831.64 906.47,1834.72 925.12,1838.89 943.77,1843.5 962.43,1848.17 981.09,1853.25 999.74,1859.16 1018.39,1865.77 1037.05,1873.09 1055.71,1880.29 1074.36,1887.78 1093.02,1895.55 1111.67,1904.29 1130.33,1913.2 1130.33,2431.6 1111.67,2408.91 1093.02,2386.25 1074.36,2364.42 1055.71,2342.71 1037.05,2321.11 1018.39,2299.23 999.74,2277.84 981.09,2256.95 962.43,2236.63 943.77,2216.5 925.12,2196.11 906.47,2175.88 887.81,2156.36 869.15,2137.25 850.5,2118 831.85,2098.58 813.19,2079.55 794.53,2060.62 775.88,2041.9 757.23,2023.04 738.57,2003.38 719.91,1982.82 701.26,1960.25 682.61,1903 663.95,1896.65 645.29,1866.9 626.64,1850.75 607.99,1817.8 589.33,1784.35 570.67,1784.61 552.02,1778.37 533.37,1773.42 514.71,1773.08 496.06,1775.04 477.4,1780.5 458.75,1796.97 440.09,1821.24 421.44,1838.51 402.78,1846.98 384.13,1836.25 365.47,1845.62 346.81,1859.59 328.16,1876.96 309.5,1917.73 290.85,1962.8 272.19,1991.8 253.54,2012 234.88,2022.8 216.23,2006.9 197.57,1989.6 178.92,1982.3 160.26,1975.3 141.61,1973.2 122.95,1984.8 104.3,1969.5" fill="#413ba3"/><polygon points="104.3,1957.1 122.95,1972.56 141.61,1961.13 160.26,1963.39 178.92,1970.56 197.57,1978.02 216.23,1995.49 234.88,2011.55 253.54,2000.92 272.19,1980.88 290.85,1952.05 309.5,1907.09 328.16,1866.44 346.81,1849.19 365.47,1835.33 384.13,1826.08 402.78,1836.92 421.44,1828.57 440.09,1811.42 458.75,1787.26 477.4,1770.91 496.06,1765.54 514.71,1763.68 533.37,1764.12 552.02,1769.16 570.67,1775.5 589.33,1775.34 607.99,1808.87 626.64,1841.9 645.29,1858.13 663.95,1887.97 682.61,1894.4 701.26,1867.38 719.91,1863.87 738.57,1862.82 757.23,1863.19 775.88,1864.26 794.53,1866.24 813.19,1869.25 831.85,1873.01 850.5,1877.67 869.15,1882.62 887.81,1887.82 906.47,1893.74 925.12,1900.69 943.77,1908.03 962.43,1915.37 981.09,1923.09 999.74,1931.59 1018.39,1940.76 1037.05,1950.6 1055.71,1960.29 1074.36,1970.24 1093.02,1980.44 1111.67,1991.59 1130.33,2002.88 1130.33,2341.92 1111.67,2321.61 1093.02,2301.36 1074.36,2281.96 1055.71,2262.71 1037.05,2243.6 1018.39,2224.24 999.74,2205.41 981.09,2187.11 962.43,2169.43 943.77,2151.97 925.12,2134.31 906.47,2116.86 887.81,2100.18 869.15,2083.98 850.5,2067.73 831.85,2051.39 813.19,2035.55 794.53,2019.96 775.88,2004.74 757.23,1989.61 738.57,1973.98 719.91,1957.93 701.26,1940.82 682.61,1901.2 663.95,1894.83 645.29,1865.07 626.64,1848.9 607.99,1815.93 589.33,1782.46 570.67,1782.7 552.02,1776.44 533.37,1771.48 514.71,1771.12 496.06,1773.06 477.4,1778.49 458.75,1794.94 440.09,1819.18 421.44,1836.43 402.78,1844.88 384.13,1834.12 365.47,1843.47 346.81,1857.41 328.16,1874.76 309.5,1915.51 290.85,1960.55 272.19,1989.52 253.54,2009.68 234.88,2020.45 216.23,2004.51 197.57,1987.18 178.92,1979.84 160.26,1972.81 141.61,1970.67 122.95,1982.24 104.3,1966.9" fill="#8d8cbd"/><polygon points="104.3,1958.04 122.95,1973.49 141.61,1962.04 160.26,1964.29 178.92,1971.45 197.57,1978.9 216.23,1996.35 234.88,2012.41 253.54,2001.76 272.19,1981.71 290.85,1952.86 309.5,1907.9 328.16,1867.24 346.81,1849.98 365.47,1836.11 384.13,1826.85 402.78,1837.69 421.44,1829.32 440.09,1812.16 458.75,1788 477.4,1771.63 496.06,1766.27 514.71,1764.4 533.37,1764.83 552.02,1769.86 570.67,1776.19 589.33,1776.02 607.99,1809.55 626.64,1842.57 645.29,1858.8 663.95,1888.63 682.61,1895.05 701.26,1874.42 719.91,1872.89 738.57,1873.49 757.23,1875.32 775.88,1877.74 794.53,1880.99 813.19,1885.2 831.85,1890.12 850.5,1895.91 869.15,1901.94 887.81,1908.19 906.47,1915.15 925.12,1923.1 943.77,1931.44 962.43,1939.75 981.09,1948.42 999.74,1957.86 1018.39,1967.96 1037.05,1978.71 1055.71,1989.31 1074.36,2000.15 1093.02,2011.23 1111.67,2023.25 1130.33,2035.41 1130.33,2309.39 1111.67,2289.95 1093.02,2270.57 1074.36,2252.05 1055.71,2233.69 1037.05,2215.49 1018.39,2197.04 999.74,2179.14 981.09,2161.78 962.43,2145.05 943.77,2128.56 925.12,2111.9 906.47,2095.45 887.81,2079.81 869.15,2064.66 850.5,2049.49 831.85,2034.28 813.19,2019.6 794.53,2005.21 775.88,1991.26 757.23,1977.48 738.57,1963.31 719.91,1948.91 701.26,1933.78 682.61,1900.55 663.95,1894.17 645.29,1864.4 626.64,1848.23 607.99,1815.25 589.33,1781.78 570.67,1782.01 552.02,1775.74 533.37,1770.77 514.71,1770.4 496.06,1772.33 477.4,1777.77 458.75,1794.2 440.09,1818.44 421.44,1835.68 402.78,1844.11 384.13,1833.35 365.47,1842.69 346.81,1856.62 328.16,1873.96 309.5,1914.7 290.85,1959.74 272.19,1988.69 253.54,2008.84 234.88,2019.59 216.23,2003.65 197.57,1986.3 178.92,1978.95 160.26,1971.91 141.61,1969.76 122.95,1981.31 104.3,1965.96" fill="#a7a6c8"/><polygon points="104.3,1958.78 122.95,1974.22 141.61,1962.76 160.26,1965.01 178.92,1972.15 197.57,1979.59 216.23,1997.04 234.88,2013.08 253.54,2002.42 272.19,1982.36 290.85,1953.51 309.5,1908.54 328.16,1867.87 346.81,1850.6 365.47,1836.73 384.13,1827.46 402.78,1838.29 421.44,1829.92 440.09,1812.75 458.75,1788.58 477.4,1772.21 496.06,1766.83 514.71,1764.96 533.37,1765.38 552.02,1770.41 570.67,1776.73 589.33,1776.56 607.99,1810.08 626.64,1843.1 645.29,1859.32 663.95,1889.14 682.61,1895.57 701.26,1879.98 719.91,1880 738.57,1881.89 757.23,1884.88 775.88,1888.36 794.53,1892.61 813.19,1897.78 831.85,1903.61 850.5,1910.28 869.15,1917.17 887.81,1924.25 906.47,1932.02 925.12,1940.77 943.77,1949.88 962.43,1958.96 981.09,1968.39 999.74,1978.57 1018.39,1989.39 1037.05,2000.86 1055.71,2012.17 1074.36,2023.72 1093.02,2035.5 1111.67,2048.21 1130.33,2061.05 1130.33,2283.75 1111.67,2264.99 1093.02,2246.3 1074.36,2228.48 1055.71,2210.83 1037.05,2193.34 1018.39,2175.61 999.74,2158.43 981.09,2141.81 962.43,2125.84 943.77,2110.12 925.12,2094.23 906.47,2078.58 887.81,2063.75 869.15,2049.43 850.5,2035.12 831.85,2020.79 813.19,2007.02 794.53,1993.59 775.88,1980.64 757.23,1967.92 738.57,1954.91 719.91,1941.8 701.26,1928.22 682.61,1900.03 663.95,1893.66 645.29,1863.88 626.64,1847.7 607.99,1814.72 589.33,1781.24 570.67,1781.47 552.02,1775.19 533.37,1770.22 514.71,1769.84 496.06,1771.77 477.4,1777.19 458.75,1793.62 440.09,1817.85 421.44,1835.08 402.78,1843.51 384.13,1832.74 365.47,1842.07 346.81,1856 328.16,1873.33 309.5,1914.06 290.85,1959.09 272.19,1988.04 253.54,2008.18 234.88,2018.92 216.23,2002.96 197.57,1985.61 178.92,1978.25 160.26,1971.19 141.61,1969.04 122.95,1980.58 104.3,1965.22" fill="#e2e1f1"/><polygon points="104.3,1959.42 122.95,1974.85 141.61,1963.39 160.26,1965.62 178.92,1972.76 197.57,1980.19 216.23,1997.63 234.88,2013.66 253.54,2002.99 272.19,1982.93 290.85,1954.06 309.5,1909.09 328.16,1868.41 346.81,1851.14 365.47,1837.26 384.13,1827.98 402.78,1838.81 421.44,1830.43 440.09,1813.26 458.75,1789.08 477.4,1772.7 496.06,1767.32 514.71,1765.44 533.37,1765.86 552.02,1770.88 570.67,1777.2 589.33,1777.02 607.99,1810.54 626.64,1843.56 645.29,1859.78 663.95,1889.59 682.61,1896.01 701.26,1884.78 719.91,1886.15 738.57,1889.16 757.23,1893.14 775.88,1897.54 794.53,1902.66 813.19,1908.65 831.85,1915.27 850.5,1922.7 869.15,1930.33 887.81,1938.13 906.47,1946.6 925.12,1956.04 943.77,1965.83 962.43,1975.56 981.09,1985.64 999.74,1996.47 1018.39,2007.92 1037.05,2020.02 1055.71,2031.94 1074.36,2044.09 1093.02,2056.47 1111.67,2069.78 1130.33,2083.21 1130.33,2261.59 1111.67,2243.42 1093.02,2225.33 1074.36,2208.11 1055.71,2191.06 1037.05,2174.18 1018.39,2157.08 999.74,2140.53 981.09,2124.56 962.43,2109.24 943.77,2094.17 925.12,2078.96 906.47,2064 887.81,2049.87 869.15,2036.27 850.5,2022.7 831.85,2009.13 813.19,1996.15 794.53,1983.54 775.88,1971.46 757.23,1959.66 738.57,1947.64 719.91,1935.65 701.26,1923.42 682.61,1899.59 663.95,1893.21 645.29,1863.42 626.64,1847.24 607.99,1814.26 589.33,1780.78 570.67,1781 552.02,1774.72 533.37,1769.74 514.71,1769.36 496.06,1771.28 477.4,1776.7 458.75,1793.12 440.09,1817.34 421.44,1834.57 402.78,1842.99 384.13,1832.22 365.47,1841.54 346.81,1855.46 328.16,1872.79 309.5,1913.51 290.85,1958.54 272.19,1987.47 253.54,2007.61 234.88,2018.34 216.23,2002.37 197.57,1985.01 178.92,1977.64 160.26,1970.58 141.61,1968.41 122.95,1979.95 104.3,1964.58" fill="#fffeff"/></g>
<line x1="682.61" y1="1728.3" x2="682.61" y2="2464.9" stroke="#a6a6a6" stroke-width="1.5" stroke-dasharray="5.7,5.97" stroke-dashoffset="5.0"/>
<polyline points="701.26,1904.1 719.91,1910.9 738.57,1918.4 757.23,1926.4 775.88,1934.5 794.53,1943.1 813.19,1952.4 831.85,1962.2 850.5,1972.7 869.15,1983.3 887.81,1994 906.47,2005.3 925.12,2017.5 943.77,2030 962.43,2042.4 981.09,2055.1 999.74,2068.5 1018.39,2082.5 1037.05,2097.1 1055.71,2111.5 1074.36,2126.1 1093.02,2140.9 1111.67,2156.6 1130.33,2172.4" fill="none" stroke="#e3191f" stroke-width="1.5" stroke-linejoin="round"/>
<circle cx="701.26" cy="1904.1" r="3.2" fill="#e3191f"/>
<circle cx="719.91" cy="1910.9" r="3.2" fill="#e3191f"/>
<circle cx="738.57" cy="1918.4" r="3.2" fill="#e3191f"/>
<circle cx="757.23" cy="1926.4" r="3.2" fill="#e3191f"/>
<circle cx="775.88" cy="1934.5" r="3.2" fill="#e3191f"/>
<circle cx="794.53" cy="1943.1" r="3.2" fill="#e3191f"/>
<circle cx="813.19" cy="1952.4" r="3.2" fill="#e3191f"/>
<circle cx="831.85" cy="1962.2" r="3.2" fill="#e3191f"/>
<circle cx="850.5" cy="1972.7" r="3.2" fill="#e3191f"/>
<circle cx="869.15" cy="1983.3" r="3.2" fill="#e3191f"/>
<circle cx="887.81" cy="1994" r="3.2" fill="#e3191f"/>
<circle cx="906.47" cy="2005.3" r="3.2" fill="#e3191f"/>
<circle cx="925.12" cy="2017.5" r="3.2" fill="#e3191f"/>
<circle cx="943.77" cy="2030" r="3.2" fill="#e3191f"/>
<circle cx="962.43" cy="2042.4" r="3.2" fill="#e3191f"/>
<circle cx="981.09" cy="2055.1" r="3.2" fill="#e3191f"/>
<circle cx="999.74" cy="2068.5" r="3.2" fill="#e3191f"/>
<circle cx="1018.39" cy="2082.5" r="3.2" fill="#e3191f"/>
<circle cx="1037.05" cy="2097.1" r="3.2" fill="#e3191f"/>
<circle cx="1055.71" cy="2111.5" r="3.2" fill="#e3191f"/>
<circle cx="1074.36" cy="2126.1" r="3.2" fill="#e3191f"/>
<circle cx="1093.02" cy="2140.9" r="3.2" fill="#e3191f"/>
<circle cx="1111.67" cy="2156.6" r="3.2" fill="#e3191f"/>
<circle cx="1130.33" cy="2172.4" r="3.2" fill="#e3191f"/>
<path d="M53.4 1728.3V2464.9H1181.9" fill="none" stroke="#000" stroke-width="1.5" stroke-linecap="butt" stroke-linejoin="round"/>
<path d="M104.3 2464.9V2468.3M197.57 2464.9V2468.3M290.85 2464.9V2468.3M384.13 2464.9V2468.3M477.4 2464.9V2468.3M570.67 2464.9V2468.3M663.95 2464.9V2468.3M757.23 2464.9V2468.3M850.5 2464.9V2468.3M943.77 2464.9V2468.3M1037.05 2464.9V2468.3M1130.33 2464.9V2468.3M50 2250H53.4M50 2001.6H53.4M50 1753.1H53.4" stroke="#333" stroke-width="1.1"/>
<g font-size="12" fill="#4d4d4d" text-anchor="middle"><text x="104.3" y="2480.7">1990</text><text x="197.57" y="2480.7">1995</text><text x="290.85" y="2480.7">2000</text><text x="384.13" y="2480.7">2005</text><text x="477.4" y="2480.7">2010</text><text x="570.67" y="2480.7">2015</text><text x="663.95" y="2480.7">2020</text><text x="757.23" y="2480.7">2025</text><text x="850.5" y="2480.7">2030</text><text x="943.77" y="2480.7">2035</text><text x="1037.05" y="2480.7">2040</text><text x="1130.33" y="2480.7">2045</text></g>
<g font-size="12" fill="#4d4d4d" text-anchor="end"><text x="46.8" y="2255.1">20</text><text x="46.8" y="2006.7">22</text><text x="46.8" y="1758.2">24</text></g>
<text x="617.65" y="2497.9" font-size="15" text-anchor="middle" fill="#000">Year</text>
<text transform="translate(25.8 2097) rotate(-90)" font-size="15" text-anchor="middle" fill="#000">ASR per 100 000</text>
<text x="9.2" y="1730.6" font-family="Liberation Serif" font-weight="bold" font-size="34" fill="#231815">C</text>
</svg>
</body></html>
